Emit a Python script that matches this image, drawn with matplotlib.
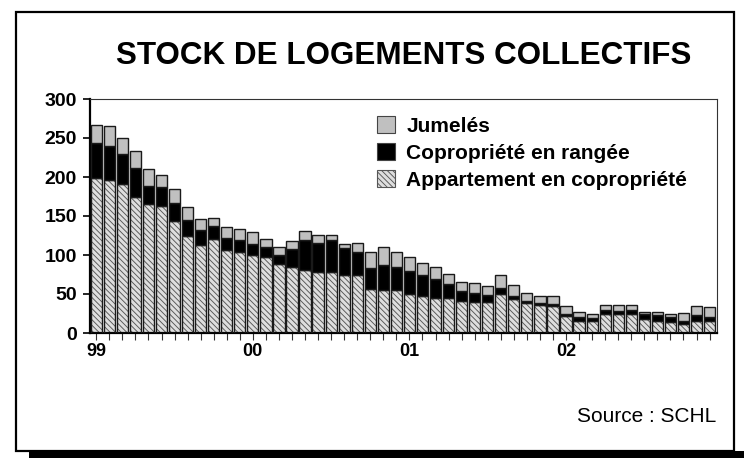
import matplotlib
matplotlib.use("Agg")
import matplotlib.pyplot as plt
from matplotlib.patches import Patch, Rectangle
import numpy as np

plt.rcParams['font.family'] = ['Liberation Sans', 'DejaVu Sans']

# Monthly data Jan 1999 - Dec 2002
year_labels = ['99', '00', '01', '02']
appartement = [199, 196, 191, 175, 166, 163, 144, 125, 113, 121, 106, 104,
               100, 97, 88, 84, 81, 78, 78, 74, 74, 56, 55, 55,
               50, 47, 45, 45, 41, 40, 40, 50, 44, 38, 36, 34,
               22, 16, 15, 25, 24, 24, 18, 16, 14, 12, 15, 15]
rangee = [45, 44, 39, 37, 23, 24, 23, 20, 19, 16, 16, 15,
          14, 13, 12, 24, 38, 38, 41, 35, 30, 27, 32, 30,
          29, 27, 24, 18, 13, 11, 9, 8, 3, 3, 3, 3,
          3, 4, 4, 4, 4, 6, 7, 7, 6, 4, 8, 6]
jumeles = [23, 25, 20, 21, 21, 16, 17, 17, 14, 11, 14, 14,
           15, 10, 10, 10, 12, 9, 6, 5, 12, 21, 23, 19,
           19, 16, 15, 13, 12, 13, 11, 17, 14, 10, 8, 11,
           9, 7, 5, 7, 8, 6, 2, 4, 4, 10, 12, 12]
series_names = ['Jumelés', 'Copropriété en rangée', 'Appartement en copropriété']

W, H = 744, 458
fig = plt.figure(figsize=(W / 100, H / 100), dpi=100)
fig.patch.set_facecolor('white')

# outer frame + shadow
fig.add_artist(Rectangle((29 / W, 0), 1 - 29 / W, 7 / H, transform=fig.transFigure,
                         facecolor='black', edgecolor='none', zorder=0))
fig.add_artist(Rectangle((16 / W, 7 / H), (734 - 16) / W, (451 - 12) / H,
                         transform=fig.transFigure, facecolor='none',
                         edgecolor='black', linewidth=1.6, zorder=1))

ax = fig.add_axes([89.5 / W, (H - 333) / H, (717 - 89.5) / W, (333 - 99) / H])

x = np.arange(len(appartement))
apt = np.array(appartement)
row = np.array(rangee)
jum = np.array(jumeles)
bw = 0.86
edge = '#1a1a1a'
hatch_face = '#dedede'
hatch_col = '#555555'
plt.rcParams['hatch.linewidth'] = 0.65

ax.bar(x, apt, width=bw, facecolor=hatch_face, edgecolor=hatch_col,
       hatch='\\\\\\\\\\\\', linewidth=0, zorder=2)
ax.bar(x, apt, width=bw, fill=False, edgecolor=edge, linewidth=1.0, zorder=3)
ax.bar(x, row, bottom=apt, width=bw, color='black', edgecolor=edge,
       linewidth=1.0, zorder=3)
ax.bar(x, jum, bottom=apt + row, width=bw, color='#c0c0c0', edgecolor=edge,
       linewidth=1.0, zorder=3)

ax.set_xlim(-0.52, len(x) - 1 + 0.57)
ax.set_ylim(0, 300)
ax.set_yticks(np.arange(0, 301, 50))
ax.set_yticklabels([str(v) for v in range(0, 301, 50)], fontsize=14, fontweight='bold')
ax.set_xticks(x)
labels = [''] * len(x)
for i, lab in enumerate(year_labels):
    labels[i * 12] = lab
ax.set_xticklabels(labels, fontsize=13, fontweight='bold')
ax.tick_params(axis='y', direction='out', length=5, width=1.2, pad=4, color='black')
ax.tick_params(axis='x', direction='out', length=5, width=0.8, pad=2, color='#333333')

for s in ['left', 'bottom']:
    ax.spines[s].set_linewidth(1.6)
    ax.spines[s].set_color('black')
for s in ['top', 'right']:
    ax.spines[s].set_linewidth(0.8)
    ax.spines[s].set_color('#333333')

handles = [Patch(facecolor='#c0c0c0', edgecolor='#444444', linewidth=0.8),
           Patch(facecolor='black', edgecolor='#444444', linewidth=0.8),
           Patch(facecolor=hatch_face, edgecolor='#555555', linewidth=0.8,
                 hatch='\\\\\\\\\\\\')]
leg = fig.legend(handles, series_names, loc='upper left',
                 bbox_to_anchor=(376.5 / W, (H - 116) / H), frameon=False,
                 prop={'weight': 'bold', 'size': 15}, handlelength=0.88,
                 handleheight=0.88, handletextpad=0.55, labelspacing=0.36,
                 borderpad=0, borderaxespad=0)

fig.text(404 / W, (H - 56) / H, 'STOCK DE LOGEMENTS COLLECTIFS', ha='center',
         va='center', fontsize=22.6, fontweight='bold')
fig.text(716 / W, (H - 417) / H, 'Source : SCHL', ha='right', va='center', fontsize=15)

fig.savefig('out.png', dpi=100, facecolor='white')
